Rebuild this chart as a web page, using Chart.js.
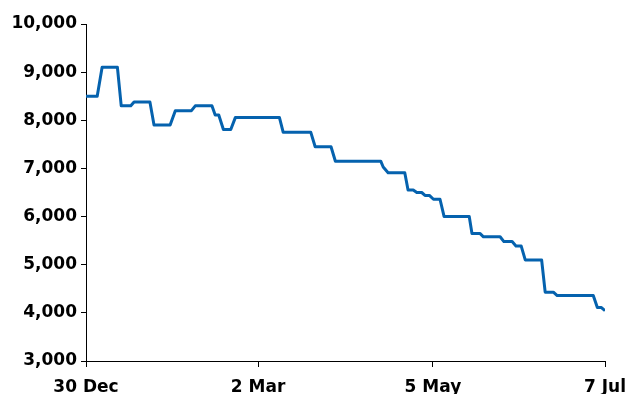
<!DOCTYPE html>
<html>
<head>
<meta charset="utf-8">
<script src="https://cdn.jsdelivr.net/npm/chart.js@4/dist/chart.umd.min.js"></script>
<style>
  html, body { margin: 0; padding: 0; background: #fff; }
  #wrap { width: 634px; height: 394px; }
</style>
</head>
<body>
<div id="wrap"><canvas id="c" width="634" height="394"></canvas></div>
<script>
// Days since 30 Dec (x) and index level (y)
const days = [0, 4.1, 5.9, 11.5, 12.9, 16.4, 17.6, 23.4, 24.9, 30.8, 32.7, 38.6, 40.0,
  46.1, 47.3, 48.6, 50.3, 53.0, 54.7, 70.8, 72.2, 82.3, 83.9, 89.7, 91.3, 107.9, 108.8,
  110.6, 116.7, 117.9, 119.8, 121.1, 122.9, 124.1, 125.7, 127.2, 129.6, 131.1, 140.3,
  141.3, 144.2, 145.5, 151.6, 153.0, 156.0, 157.4, 159.3, 160.8, 166.8, 168.1, 171.1,
  172.5, 185.7, 187.2, 188.7, 190];
const values = [8500, 8500, 9100, 9100, 8300, 8300, 8380, 8380, 7900, 7900, 8200, 8200, 8300,
  8300, 8110, 8110, 7810, 7810, 8060, 8060, 7750, 7750, 7450, 7450, 7150, 7150, 7030,
  6910, 6910, 6550, 6550, 6500, 6500, 6440, 6440, 6360, 6360, 6000, 6000,
  5650, 5650, 5580, 5580, 5480, 5480, 5390, 5390, 5100, 5100, 4430, 4430,
  4360, 4360, 4110, 4110, 4045];
const tickDays = [0, 63, 127, 190];
const tickLabels = ['30 Dec', '2 Mar', '5 May', '7 Jul'];
const yTicks = [3000, 4000, 5000, 6000, 7000, 8000, 9000, 10000];

const points = days.map((d, i) => ({ x: d, y: values[i] }));
const font = { family: 'DejaVu Sans', size: 17, weight: 'bold' };

new Chart(document.getElementById('c'), {
  type: 'line',
  data: {
    datasets: [{
      data: points,
      borderColor: '#0562ae',
      borderWidth: 3,
      pointRadius: 0,
      tension: 0,
      fill: false,
      borderJoinStyle: 'round'
    }]
  },
  options: {
    responsive: false,
    devicePixelRatio: 1,
    animation: false,
    layout: { padding: { top: 24, right: 29, left: 0, bottom: 0 } },
    plugins: { legend: { display: false }, tooltip: { enabled: false } },
    scales: {
      x: {
        type: 'linear',
        min: tickDays[0],
        max: tickDays[tickDays.length - 1],
        afterBuildTicks: s => { s.ticks = tickDays.map(v => ({ value: v })); },
        afterFit: s => { s.height = 33; s.paddingLeft = 0; s.paddingRight = 0; },
        grid: { drawOnChartArea: false, drawTicks: true, tickLength: 6, color: '#000', lineWidth: 1 },
        border: { color: '#000', width: 1 },
        ticks: {
          color: '#000', font: font, padding: 10, maxRotation: 0, autoSkip: false,
          callback: v => { const i = tickDays.indexOf(v); return i >= 0 ? tickLabels[i] : ''; }
        }
      },
      y: {
        min: 3000,
        max: 10000,
        afterBuildTicks: s => { s.ticks = yTicks.map(v => ({ value: v })); },
        afterFit: s => { s.width = 86; s.paddingTop = 0; s.paddingBottom = 0; },
        grid: { drawOnChartArea: false, drawTicks: true, tickLength: 5, color: '#000', lineWidth: 1 },
        border: { color: '#000', width: 1 },
        ticks: {
          color: '#000', font: font, padding: 4,
          callback: v => v.toLocaleString('en-US')
        }
      }
    }
  }
});
</script>
</body>
</html>
